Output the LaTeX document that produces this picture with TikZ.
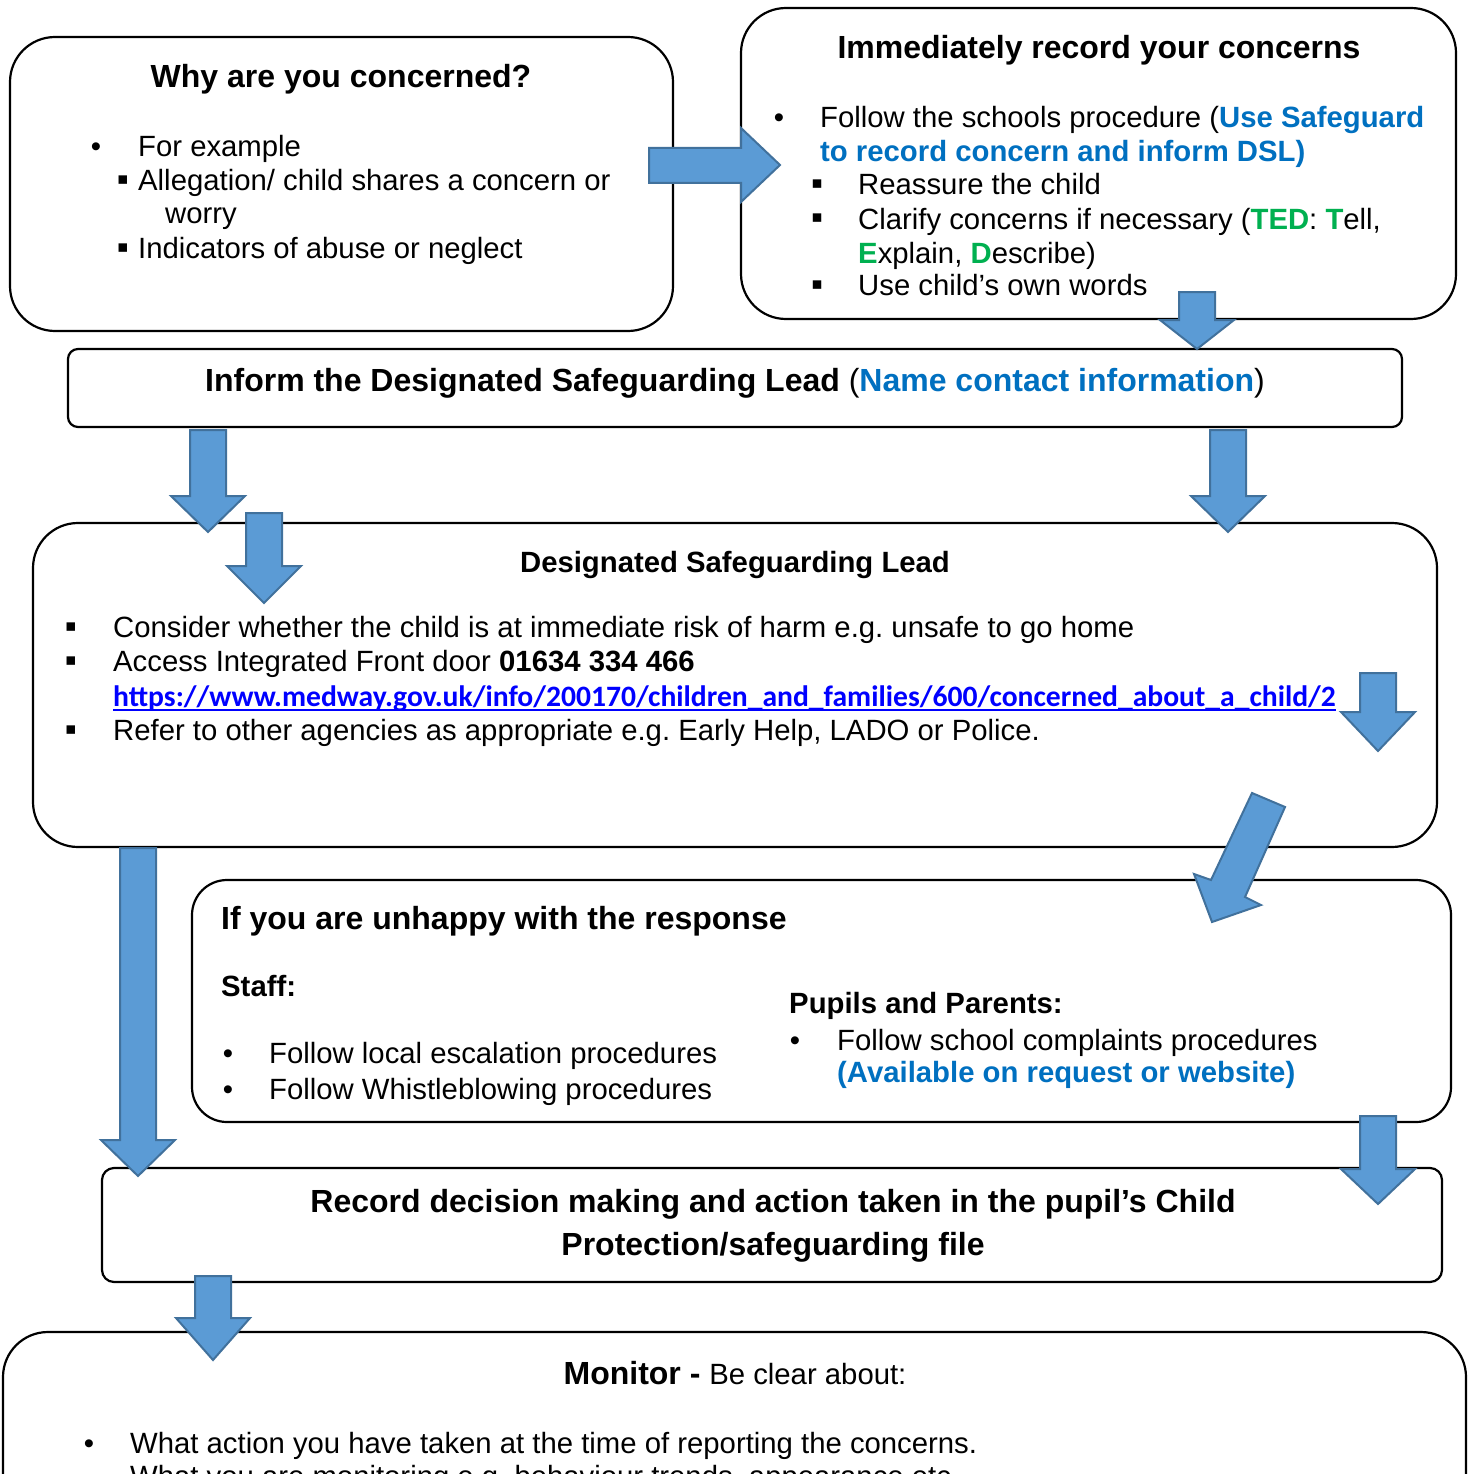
\documentclass[tikz,border=0pt]{standalone}
\usepackage{fontspec}
\setmainfont{Liberation Sans}
\newfontfamily\calfont{Carlito}
\newfontfamily\djfont{DejaVu Sans}
\definecolor{ablue}{HTML}{5B9BD5}
\definecolor{aedge}{HTML}{41719C}
\definecolor{tblue}{HTML}{0070C0}
\definecolor{tgreen}{HTML}{00B050}
\definecolor{lblue}{HTML}{0000FF}
\frenchspacing
\tikzset{
 rbox/.style={draw, line width=2.2, fill=white, rounded corners=#1, anchor=north west, inner sep=0, outer sep=0},
 txt/.style={anchor=base west, inner sep=0, font=\fontsize{29.3}{34}\selectfont},
 btxt/.style={anchor=base west, inner sep=0, font=\fontsize{29.3}{34}\selectfont\bfseries},
 hd/.style={anchor=base, inner sep=0, font=\fontsize{32}{38}\selectfont\bfseries},
 hdl/.style={anchor=base west, inner sep=0, font=\fontsize{32}{38}\selectfont\bfseries},
 bul/.style={anchor=base, inner sep=0, font=\fontsize{29.3}{34}\selectfont},
 sqb/.style={anchor=center, inner sep=0, font=\djfont\fontsize{17}{17}\selectfont},
 barrow/.style={fill=ablue, draw=aedge, line width=2, line join=miter},
}
\newcommand\blkdown[4]{\draw[barrow] (#1-18,#2) -- (#1+18,#2) -- (#1+18,#3) -- (#1+37,#3) -- (#1,#4) -- (#1-37,#3) -- (#1-18,#3) -- cycle;}
\begin{document}
\begin{tikzpicture}[x=1pt,y=-1pt]
\useasboundingbox (0,0) rectangle (1469,1474);
\clip (0,0) rectangle (1469,1474);
\fill[white] (0,0) rectangle (1469,1474);
% boxes
\node[rbox=45, minimum width=663, minimum height=294] (b1) at (10,37) {};
\node[rbox=45, minimum width=715, minimum height=311] (b2) at (741,8) {};
\node[rbox=10, minimum width=1334, minimum height=78] (b3) at (68,349) {};
\node[rbox=45, minimum width=1404, minimum height=324] (b4) at (33,523) {};
\node[rbox=35, minimum width=1259, minimum height=242] (b5) at (192,880) {};
\node[rbox=12, minimum width=1340, minimum height=114] (b6) at (102,1168) {};
\node[rbox=45, minimum width=1463, minimum height=300] (b7) at (3,1332) {};
% box 1 text
\node[hd] (t1) at (341,88) {Why are you concerned?};
\node[bul] (u1a) at (96,157) {•};
\node[txt] (t1a) at (138,157) {For example};
\node[sqb] (s1b) at (123,180) {▪};
\node[txt] (t1b) at (138,190) {Allegation/ child shares a concern or};
\node[txt] (t1c) at (165,223) {worry};
\node[sqb] (s1d) at (123,248) {▪};
\node[txt] (t1d) at (138,258) {Indicators of abuse or neglect};
% box 2 text
\node[hd] (t2) at (1099,59) {Immediately record your concerns};
\node[bul] (u2a) at (779,128) {•};
\node[txt] (t2a) at (820,128) {Follow the schools procedure (\textcolor{tblue}{\bfseries Use Safeguard}};
\node[btxt, text=tblue] (t2b) at (820,162) {to record concern and inform DSL)};
\node[sqb] (s2c) at (817,184) {▪};
\node[txt] (t2c) at (858,194) {Reassure the child};
\node[sqb] (s2d) at (817,218) {▪};
\node[txt] (t2d) at (858,229) {Clarify concerns if necessary (\textcolor{tgreen}{\bfseries TED}: \textcolor{tgreen}{\bfseries T}ell,};
\node[txt] (t2e) at (858,263) {\textcolor{tgreen}{\bfseries E}xplain, \textcolor{tgreen}{\bfseries D}escribe)};
\node[sqb] (s2f) at (817,285) {▪};
\node[txt] (t2f) at (858,295) {Use child’s own words};
% box 3 text
\node[hd] (t3) at (735,391) {Inform the Designated Safeguarding Lead {\mdseries (}\textcolor{tblue}{Name contact information}{\mdseries )}};
% box 4 text
\node[anchor=base, inner sep=0, font=\fontsize{29.3}{34}\selectfont\bfseries] (t4) at (735,572) {Designated Safeguarding Lead};
\node[sqb] (s4a) at (71,627) {▪};
\node[txt] (t4a) at (113,637) {Consider whether the child is at immediate risk of harm e.g. unsafe to go home};
\node[sqb] (s4b) at (71,661) {▪};
\node[txt] (t4b) at (113,671) {Access Integrated Front door \textbf{01634 334 466}};
\node[anchor=base west, inner sep=0, font=\calfont\fontsize{29.6}{34}\selectfont\bfseries, text=lblue] (url) at (113,706) {https://www.medway.gov.uk/info/200170/children\_and\_families/600/concerned\_about\_a\_child/2};
\draw[lblue, line width=2] ([yshift=-3.5pt]url.base west) -- ([yshift=-3.5pt]url.base east);
\node[sqb] (s4c) at (71,730) {▪};
\node[txt] (t4c) at (113,740) {Refer to other agencies as appropriate e.g. Early Help, LADO or Police.};
% box 5 text
\node[hdl] (t5) at (221,929) {If you are unhappy with the response};
\node[btxt] (t5a) at (221,996) {Staff:};
\node[bul] (u5b) at (228,1063) {•};
\node[txt] (t5b) at (269,1063) {Follow local escalation procedures};
\node[bul] (u5c) at (228,1099) {•};
\node[txt] (t5c) at (269,1099) {Follow Whistleblowing procedures};
\node[btxt] (t5d) at (789,1013) {Pupils and Parents:};
\node[bul] (u5e) at (795,1050) {•};
\node[txt] (t5e) at (837,1050) {Follow school complaints procedures};
\node[btxt, text=tblue] (t5f) at (837,1082) {(Available on request or website)};
% box 6 text
\node[hd] (t6a) at (773,1212) {Record decision making and action taken in the pupil’s Child};
\node[hd] (t6b) at (773,1255) {Protection/safeguarding file};
% box 7 text
\node[hd] (t7) at (735,1384) {Monitor - {\mdseries\fontsize{29.3}{34}\selectfont Be clear about:}};
\node[bul] (u7a) at (89,1453) {•};
\node[txt] (t7a) at (130,1453) {What action you have taken at the time of reporting the concerns.};
\node[txt] (t7b) at (130,1486) {What you are monitoring e.g. behaviour trends, appearance etc.};
% block arrows
\draw[barrow] (649,148) -- (741,148) -- (741,128) -- (780,165) -- (741,202) -- (741,183) -- (649,183) -- cycle;
\blkdown{1197}{292}{320}{349}
\blkdown{208}{430}{496}{532}
\blkdown{264}{513}{566}{603}
\blkdown{1228}{430}{496}{532}
\blkdown{1378}{673}{712}{751}
\draw[barrow] (1252,793) -- (1285,807) -- (1245,897) -- (1261,905) -- (1212,922) -- (1194,874) -- (1211,880) -- cycle;
\blkdown{138}{848}{1140}{1176}
\blkdown{1378}{1116}{1169}{1204}
\blkdown{213}{1276}{1318}{1360}
\end{tikzpicture}
\end{document}
